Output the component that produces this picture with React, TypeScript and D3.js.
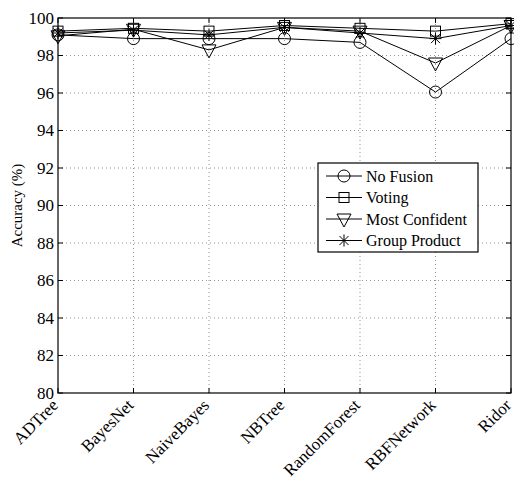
import React from "react";
import * as d3 from "d3";

const categories = ["ADTree", "BayesNet", "NaiveBayes", "NBTree", "RandomForest", "RBFNetwork", "Ridor"];
const noFusion = [99.1, 98.9, 98.9, 98.9, 98.7, 96.05, 98.9];
const voting = [99.3, 99.45, 99.3, 99.6, 99.45, 99.3, 99.7];
const mostConfident = [99.05, 99.4, 98.3, 99.5, 99.3, 97.6, 99.6];
const groupProduct = [99.2, 99.35, 99.1, 99.5, 99.2, 98.9, 99.6];
const seriesNames = ["No Fusion", "Voting", "Most Confident", "Group Product"];
const yTicks = [80, 82, 84, 86, 88, 90, 92, 94, 96, 98, 100];

const W = 514, H = 485;
const m = { left: 58, right: 2, top: 18, bottom: 92 };
const font = "Liberation Serif, Times New Roman, DejaVu Serif, serif";

function Marker({ kind, x, y }: { kind: number; x: number; y: number }) {
  const s = { fill: "none", stroke: "#000", strokeWidth: 1 } as const;
  if (kind === 0) return <circle cx={x} cy={y} r={6} {...s} />;
  if (kind === 1) return <rect x={x - 5} y={y - 5} width={10} height={10} {...s} />;
  if (kind === 2) return <path d={`M${x - 7},${y - 5}L${x + 7},${y - 5}L${x},${y + 8}Z`} {...s} />;
  const r = 6, d = 4.5;
  return (
    <path
      d={`M${x},${y - r}L${x},${y + r}M${x - r},${y}L${x + r},${y}M${x - d},${y - d}L${x + d},${y + d}M${x - d},${y + d}L${x + d},${y - d}`}
      {...s}
    />
  );
}

export default function App() {
  const x = d3.scalePoint<string>().domain(categories).range([m.left, W - m.right - 1]);
  const y = d3.scaleLinear().domain([80, 100]).range([H - m.bottom, m.top]);
  const series = [noFusion, voting, mostConfident, groupProduct];
  const line = d3
    .line<number>()
    .x((_, i) => x(categories[i]) as number)
    .y((v) => y(v));
  const x0 = m.left, x1 = W - m.right - 1, y0 = H - m.bottom, y1 = m.top;
  const lg = { x: 318, y: 163, w: 160, h: 89 };
  const tstyle = { fontFamily: font } as React.CSSProperties;
  return (
    <svg width={W} height={H} style={{ position: "absolute", left: 0, top: 0, background: "#fff" }}>
      <rect width={W} height={H} fill="#fff" />
      {/* grid */}
      {yTicks.slice(1, -1).map((t) => (
        <line key={"gy" + t} x1={x0} x2={x1} y1={y(t)} y2={y(t)} stroke="#000" strokeWidth={0.6} strokeDasharray="1,3" opacity={0.7} />
      ))}
      {categories.slice(1, -1).map((c) => (
        <line key={"gx" + c} x1={x(c)} x2={x(c)} y1={y0} y2={y1} stroke="#000" strokeWidth={0.6} strokeDasharray="1,3" opacity={0.7} />
      ))}
      {/* ticks */}
      {yTicks.map((t) => (
        <g key={"ty" + t}>
          <line x1={x0} x2={x0 + 5} y1={y(t)} y2={y(t)} stroke="#000" />
          <line x1={x1 - 5} x2={x1} y1={y(t)} y2={y(t)} stroke="#000" />
          <text x={x0 - 4} y={y(t)} dy="0.35em" textAnchor="end" style={tstyle} fontSize={17}>
            {t}
          </text>
        </g>
      ))}
      {categories.map((c) => (
        <g key={"tx" + c}>
          <line x1={x(c)} x2={x(c)} y1={y0} y2={y0 - 5} stroke="#000" />
          <line x1={x(c)} x2={x(c)} y1={y1} y2={y1 + 5} stroke="#000" />
          <text
            transform={`translate(${(x(c) as number) - 3},${y0 + 9}) rotate(-45)`}
            textAnchor="end"
            dy="0.35em"
            style={tstyle}
            fontSize={17}
          >
            {c}
          </text>
        </g>
      ))}
      <rect x={x0} y={y1} width={x1 - x0} height={y0 - y1} fill="none" stroke="#000" strokeWidth={1.2} />
      <text transform={`translate(22,${(y0 + y1) / 2}) rotate(-90)`} textAnchor="middle" style={tstyle} fontSize={15}>
        Accuracy (%)
      </text>
      {/* series */}
      {series.map((s, k) => (
        <g key={"s" + k}>
          <path d={line(s) || ""} fill="none" stroke="#000" strokeWidth={1} />
          {s.map((v, i) => (
            <Marker key={i} kind={k} x={x(categories[i]) as number} y={y(v)} />
          ))}
        </g>
      ))}
      {/* legend */}
      <rect x={lg.x} y={lg.y} width={lg.w} height={lg.h} fill="#fff" stroke="#000" strokeWidth={1.2} />
      {seriesNames.map((n, k) => {
        const yy = lg.y + 13 + k * 21.5;
        return (
          <g key={"l" + n}>
            <line x1={326} x2={362} y1={yy} y2={yy} stroke="#000" />
            <Marker kind={k} x={344} y={yy} />
            <text x={366} y={yy} dy="0.35em" style={tstyle} fontSize={16}>
              {n}
            </text>
          </g>
        );
      })}
    </svg>
  );
}
